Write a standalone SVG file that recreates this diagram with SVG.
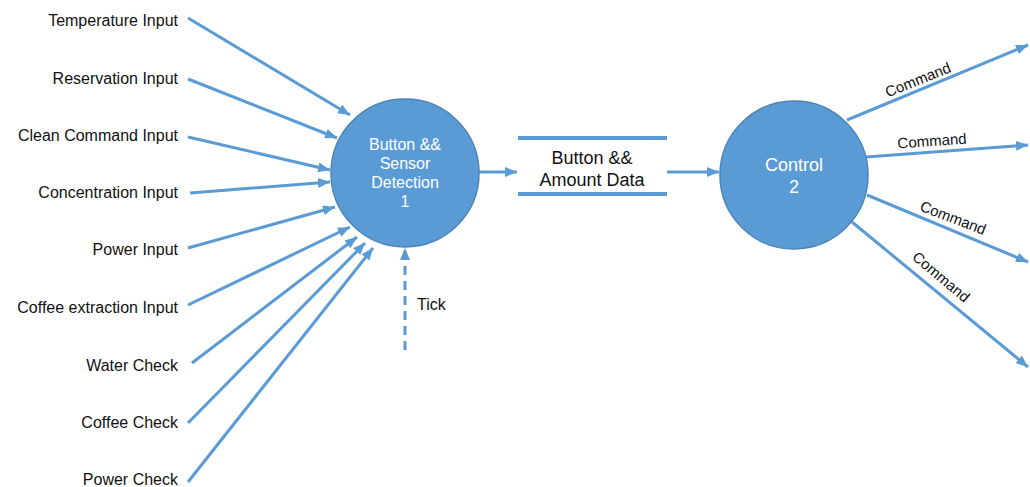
<svg xmlns="http://www.w3.org/2000/svg" width="1030" height="487" viewBox="0 0 1030 487">
<defs>
<marker id="ah" markerUnits="userSpaceOnUse" markerWidth="12" markerHeight="10" refX="12" refY="5" orient="auto">
<path d="M0,0 L12,5 L0,10 z" fill="#5B9BD5"/>
</marker>
<style>
.flow{stroke:#5B9BD5;stroke-width:3;fill:none;marker-end:url(#ah)}
.dash{stroke-dasharray:9 6}
.proc{fill:#5B9BD5;stroke:#4A84B8;stroke-width:1.5}
.lbl{font-family:"Liberation Sans",Arial,sans-serif;font-size:16px;fill:#111}
.in{text-anchor:end}
.ptxt{font-family:"Liberation Sans",Arial,sans-serif;font-size:16px;fill:#fff;text-anchor:middle}
.ctxt{font-family:"Liberation Sans",Arial,sans-serif;font-size:18px;fill:#fff;text-anchor:middle}
.stxt{font-family:"Liberation Sans",Arial,sans-serif;font-size:18px;fill:#111;text-anchor:middle}
.cmd{font-family:"Liberation Sans",Arial,sans-serif;font-size:15px;fill:#111;text-anchor:middle}
.store{stroke:#5B9BD5;stroke-width:4}
</style>
</defs>
<rect width="1030" height="487" fill="#fff"/>

<g id="connectors">
<line class="flow" x1="188" y1="18" x2="350" y2="115"/>
<line class="flow" x1="188" y1="79" x2="337" y2="138"/>
<line class="flow" x1="188" y1="137" x2="330" y2="170"/>
<line class="flow" x1="190" y1="193" x2="330" y2="182"/>
<line class="flow" x1="188" y1="248" x2="335" y2="207"/>
<line class="flow" x1="188" y1="305" x2="350" y2="227"/>
<line class="flow" x1="192" y1="363" x2="357" y2="237"/>
<line class="flow" x1="188" y1="423" x2="365" y2="243"/>
<line class="flow" x1="188" y1="482" x2="373" y2="248"/>
<line class="flow dash" x1="405" y1="350" x2="405" y2="248"/>
<line class="flow" x1="479" y1="172" x2="517" y2="172"/>
<line class="flow" x1="667" y1="172" x2="719" y2="172"/>
<line class="flow" x1="847" y1="120" x2="1028" y2="45"/>
<line class="flow" x1="866" y1="157" x2="1028" y2="145"/>
<line class="flow" x1="867" y1="195" x2="1028" y2="262"/>
<line class="flow" x1="852" y1="222" x2="1028" y2="367"/>
<text class="lbl" x="417" y="310">Tick</text>
<text class="cmd" transform="translate(918,80) rotate(-22)" y="5">Command</text>
<text class="cmd" transform="translate(932,141) rotate(-4)" y="5">Command</text>
<text class="cmd" transform="translate(953,218) rotate(21)" y="5">Command</text>
<text class="cmd" transform="translate(941,277) rotate(40)" y="5">Command</text>
</g>

<g id="inputs">
<text class="lbl in" x="178" y="26">Temperature Input</text>
<text class="lbl in" x="178" y="84">Reservation Input</text>
<text class="lbl in" x="178" y="141">Clean Command Input</text>
<text class="lbl in" x="178" y="198">Concentration Input</text>
<text class="lbl in" x="178" y="255">Power Input</text>
<text class="lbl in" x="178" y="313">Coffee extraction Input</text>
<text class="lbl in" x="178" y="371">Water Check</text>
<text class="lbl in" x="178" y="428">Coffee Check</text>
<text class="lbl in" x="178" y="485">Power Check</text>
</g>

<g id="process1">
<circle class="proc" cx="405" cy="173" r="74"/>
<text class="ptxt" x="405" y="150">Button &amp;&amp;</text>
<text class="ptxt" x="405" y="169">Sensor</text>
<text class="ptxt" x="405" y="188">Detection</text>
<text class="ptxt" x="405" y="207">1</text>
</g>

<g id="store">
<line class="store" x1="518" y1="138" x2="667" y2="138"/>
<line class="store" x1="518" y1="194" x2="667" y2="194"/>
<text class="stxt" x="592" y="164">Button &amp;&amp;</text>
<text class="stxt" x="592" y="186">Amount Data</text>
</g>

<g id="process2">
<circle class="proc" cx="794" cy="175" r="74"/>
<text class="ctxt" x="794" y="171">Control</text>
<text class="ctxt" x="794" y="193">2</text>
</g>
</svg>
